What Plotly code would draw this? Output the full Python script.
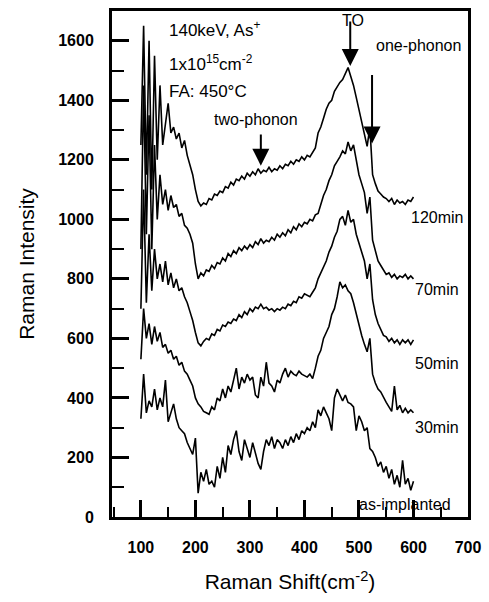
import plotly.graph_objects as go

# Raman shift sampling (cm^-1), 5 cm^-1 steps from 100 to 600
shift = list(range(100, 605, 5))

# intensities, one list per anneal time
i_120min = [1250, 1650, 1150, 1600, 1100, 1550, 1200, 1450, 1250, 1320,
            1390, 1290, 1310, 1270, 1290, 1240, 1265, 1215, 1180, 1150,
            1100, 1060, 1045, 1055, 1050, 1070, 1065, 1085, 1080, 1095,
            1090, 1110, 1105, 1125, 1115, 1135, 1130, 1145, 1135, 1155,
            1145, 1160, 1150, 1170, 1155, 1165, 1160, 1175, 1160, 1170,
            1165, 1180, 1170, 1185, 1180, 1195, 1185, 1200, 1195, 1210,
            1200, 1215, 1210, 1225, 1240, 1290, 1310, 1340, 1370, 1390,
            1400, 1430, 1445, 1460, 1470, 1490, 1510, 1480, 1450, 1410,
            1370, 1330, 1280, 1245, 1310, 1150, 1120, 1095, 1085, 1075,
            1070, 1060, 1070, 1050, 1065, 1055, 1060, 1050, 1065, 1060,
            1075]
i_70min = [900, 1450, 950, 1350, 900, 1250, 1000, 1150, 1050, 1100,
           1030, 1080, 1040, 1050, 1010, 1020, 980, 970, 950, 920,
           850, 800, 820, 810, 830, 825, 845, 835, 855, 850,
           870, 860, 885, 875, 895, 885, 905, 895, 910, 900,
           915, 905, 925, 915, 935, 920, 930, 925, 940, 930,
           950, 940, 955, 945, 965, 955, 975, 965, 985, 975,
           990, 985, 1000, 995, 1015, 1020, 1050, 1080, 1100, 1130,
           1150, 1180, 1195, 1210, 1230, 1220, 1260, 1230, 1250, 1200,
           1150, 1120, 1090, 1020, 1075, 930, 890, 860, 845, 830,
           815, 820, 805, 815, 800, 810, 805, 815, 800, 810,
           800]
i_50min = [700, 1100, 720, 950, 760, 900, 800, 850, 790, 860,
           780, 820, 770, 800, 760, 770, 740, 720, 690, 660,
           620, 585, 575, 590, 600, 595, 615, 610, 630, 625,
           645, 640, 655, 650, 665, 660, 680, 670, 690, 680,
           700, 690, 705, 700, 715, 700, 705, 695, 700, 690,
           700, 695, 705, 700, 715, 710, 725, 720, 740, 735,
           750, 745, 740, 755, 770, 800, 820, 840, 860, 890,
           910, 940, 960, 1000, 1010, 980, 1030, 990, 1000, 950,
           920, 890, 860, 800, 850, 730, 680, 650, 630, 610,
           605, 590, 600, 585, 595, 580, 595, 585, 595, 580,
           595]
i_30min = [530, 700, 600, 650, 580, 640, 590, 620, 570, 580,
           550, 560, 530, 540, 510, 520, 490, 480, 460, 440,
           400, 380, 370, 355, 350, 345, 370, 360, 400, 390,
           430, 400, 440, 420, 460, 500, 430, 470, 450, 480,
           460, 470, 410, 400, 470, 440, 520, 450, 440, 420,
           460, 450, 480, 500, 470, 490, 480, 475, 490, 480,
           475, 470, 480, 465, 500, 540, 560, 600, 620, 640,
           680, 700, 740, 790, 770, 780, 760, 750, 720, 680,
           650, 610, 580, 555, 600, 480, 450, 430, 420, 400,
           385, 370, 355, 440, 360, 375, 350, 365, 350, 360,
           350]
i_asimp = [330, 480, 350, 390, 370, 430, 360, 400, 370, 460,
           320, 350, 380, 330, 300, 290, 280, 250, 230, 210,
           265, 80, 150, 120, 160, 110, 120, 100, 170, 130,
           200, 150, 240, 210, 260, 290, 220, 190, 260, 230,
           200, 250, 210, 180, 160, 220, 260, 240, 270, 230,
           260, 250, 230, 260, 240, 270, 250, 280, 260, 290,
           280, 300, 290, 320, 300, 360, 340, 370, 350, 330,
           290, 400, 430, 410, 390, 410, 385, 380, 370, 290,
           340, 320, 290, 300, 230, 220, 200, 170, 185, 150,
           170, 130, 160, 110, 140, 100, 190, 110, 130, 90,
           120]

series = [("120min", i_120min), ("70min", i_70min), ("50min", i_50min),
          ("30min", i_30min), ("as-implanted", i_asimp)]

FONT = "Arial, Liberation Sans, sans-serif"

fig = go.Figure()
for name, vals in series:
    fig.add_trace(go.Scatter(x=shift, y=vals, name=name, mode="lines",
                             line=dict(color="black", width=1.6),
                             showlegend=False))

# curve labels at the right-hand end
curve_labels = [("120min", 643, 1005), ("70min", 643, 765), ("50min", 643, 517),
                ("30min", 643, 300), ("as-implanted", 585, 42)]
for txt, lx, ly in curve_labels:
    fig.add_annotation(x=lx, y=ly, text=txt, showarrow=False,
                       font=dict(size=16, color="black", family=FONT))

# sample description
info = [("140keV, As<sup>+</sup>", 1640), ("1x10<sup>15</sup>cm<sup>-2</sup>", 1525),
        ("FA: 450°C", 1430)]
for txt, ly in info:
    fig.add_annotation(x=148, y=ly, text=txt, showarrow=False, xanchor="left",
                       font=dict(size=17, color="black", family=FONT))

fig.add_annotation(x=311, y=1337, text="two-phonon", showarrow=False,
                   font=dict(size=16, color="black", family=FONT))
fig.add_annotation(x=489, y=1668, text="TO", showarrow=False,
                   font=dict(size=16, color="black", family=FONT))
fig.add_annotation(x=610, y=1583, text="one-phonon", showarrow=False,
                   font=dict(size=16, color="black", family=FONT))

# arrows (x, tip, tail)
arrows = [(320, 1180, 1290), (484, 1515, 1670), (524, 1255, 1490)]
for ax_x, tip, tail in arrows:
    fig.add_annotation(x=ax_x, y=tip, ax=ax_x, ay=tail, axref="x", ayref="y",
                       text="", showarrow=True, arrowhead=2, arrowsize=1.7,
                       arrowwidth=2, arrowcolor="black")

fig.update_xaxes(range=[47, 700], tick0=0, dtick=100, ticks="inside", ticklen=17,
                 tickwidth=2.5, tickcolor="black",
                 minor=dict(dtick=50, ticks="inside", ticklen=10, tickwidth=2,
                            tickcolor="black"),
                 showline=True, linewidth=3, linecolor="black", mirror=True,
                 showgrid=False, zeroline=False, ticklabelstandoff=14,
                 tickfont=dict(size=16, color="black", family=FONT, weight="bold"),
                 title=dict(text="Raman Shift(cm<sup>-2</sup>)", standoff=20,
                            font=dict(size=21, color="black", family=FONT)))
fig.update_yaxes(range=[0, 1700], tick0=0, dtick=200, ticks="inside", ticklen=17,
                 tickwidth=2.5, tickcolor="black",
                 minor=dict(dtick=100, ticks="inside", ticklen=12, tickwidth=2,
                            tickcolor="black"),
                 showline=True, linewidth=3, linecolor="black", mirror=True,
                 showgrid=False, zeroline=False, ticklabelstandoff=12,
                 tickfont=dict(size=16, color="black", family=FONT, weight="bold"),
                 title=dict(text="Raman Intensity", standoff=18,
                            font=dict(size=21, color="black", family=FONT)))

fig.update_layout(width=489, height=602, plot_bgcolor="white", paper_bgcolor="white",
                  margin=dict(l=112, r=19, t=8, b=85), font=dict(family=FONT))

# drop the default page margin so the 489x602 figure fits the window exactly
fig.write_html("out.html", config={"displayModeBar": False},
               post_script="document.body.style.margin='0';"
                           "document.body.style.overflow='hidden';")
